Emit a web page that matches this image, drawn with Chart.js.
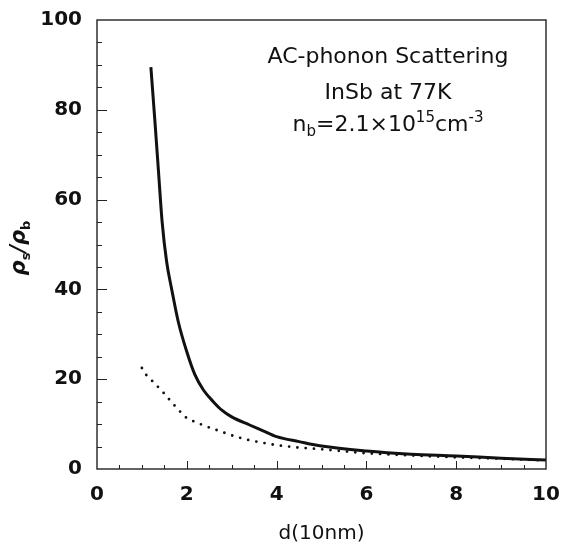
<!DOCTYPE html>
<html>
<head>
<meta charset="utf-8">
<script src="https://cdn.jsdelivr.net/npm/chart.js@4.4.1/dist/chart.umd.min.js"></script>
<style>
  html, body { margin: 0; padding: 0; background: #fff; }
  #wrap { width: 561px; height: 548px; }
</style>
</head>
<body>
<div id="wrap"><canvas id="chart" width="561" height="548"></canvas></div>
<script>
// values: d in units of 10 nm, rho_s / rho_b
const solidD   = [1.2, 1.29, 1.37, 1.45, 1.55, 1.66, 1.81, 2.0, 2.18, 2.37, 2.59, 2.78, 3.0, 3.4, 3.7, 4.0, 4.5, 5.0, 6.0, 7.0, 8.0, 9.0, 10.0];
const solidRho = [89.5, 77.4, 66.2, 55.1, 46.2, 40.2, 32.8, 26.1, 21.0, 17.6, 15.0, 13.1, 11.6, 9.8, 8.5, 7.2, 6.1, 5.1, 4.0, 3.3, 2.9, 2.4, 2.0];

const dotD   = [1.0, 1.1, 1.3, 1.48, 1.65, 1.83, 2.0, 2.2, 2.4, 2.6, 2.8, 3.0, 3.3, 3.6, 4.0, 4.45, 5.0, 6.0, 7.0, 8.0, 9.0, 10.0];
const dotRho = [22.5, 20.9, 18.9, 17.0, 15.0, 13.0, 11.3, 10.4, 9.6, 8.9, 8.2, 7.5, 6.6, 6.0, 5.3, 4.8, 4.4, 3.5, 3.0, 2.6, 2.3, 1.9];

const xTicks = [0, 2, 4, 6, 8, 10];
const yTicks = [0, 20, 40, 60, 80, 100];

const FONT = '"DejaVu Sans", "Liberation Sans", sans-serif';
const INK = '#111';

function toPoints(xs, ys) {
    return xs.map((x, i) => ({ x: x, y: ys[i] }));
}

// draws a row of text pieces (normal / sub / sup) one after another
function drawRuns(ctx, runs, x, y, big, small, align) {
    const fonts = { main: big, sub: small, sup: small };
    let total = 0;
    runs.forEach(r => {
        ctx.font = fonts[r[1]];
        total += ctx.measureText(r[0]).width;
    });
    let cx = align === 'center' ? x - total / 2 : x;
    runs.forEach(r => {
        ctx.font = fonts[r[1]];
        let dy = 0;
        if (r[1] === 'sub') dy = 5;
        if (r[1] === 'sup') dy = -9;
        ctx.fillText(r[0], cx, y + dy);
        cx += ctx.measureText(r[0]).width;
    });
}

// box round the plot and inward tick marks
const frame = {
    id: 'frame',
    afterDatasetsDraw(chart) {
        const ctx = chart.ctx;
        const a = chart.chartArea;
        const xs = chart.scales.x, ys = chart.scales.y;
        ctx.save();
        ctx.strokeStyle = '#222';
        ctx.lineWidth = 1.4;
        ctx.strokeRect(a.left, a.top, a.right - a.left, a.bottom - a.top);
        ctx.lineWidth = 1;
        ctx.beginPath();
        for (let v = 0.5; v < 10; v += 0.5) {
            const px = Math.round(xs.getPixelForValue(v)) + 0.5;
            const len = (v % 2 === 0) ? 8 : 4;
            ctx.moveTo(px, a.bottom);
            ctx.lineTo(px, a.bottom - len);
        }
        for (let v = 5; v < 100; v += 5) {
            const py = Math.round(ys.getPixelForValue(v)) + 0.5;
            const len = (v % 20 === 0) ? 10 : 5;
            ctx.moveTo(a.left, py);
            ctx.lineTo(a.left + len, py);
        }
        ctx.stroke();
        ctx.restore();
    }
};

// annotation text and the rotated y label
const labels = {
    id: 'labels',
    afterDraw(chart) {
        const ctx = chart.ctx;
        const a = chart.chartArea;
        const cx = a.left + 291;
        ctx.save();
        ctx.fillStyle = INK;
        ctx.textBaseline = 'alphabetic';
        ctx.textAlign = 'left';
        const big = '22px ' + FONT, small = '15px ' + FONT;
        drawRuns(ctx, [['AC-phonon Scattering', 'main']], cx, a.top + 43, big, small, 'center');
        drawRuns(ctx, [['InSb at 77K', 'main']], cx, a.top + 79, big, small, 'center');
        drawRuns(ctx, [['n', 'main'], ['b', 'sub'], ['=2.1\u00d710', 'main'], ['15', 'sup'],
                       ['cm', 'main'], ['-3', 'sup']], cx, a.top + 111, big, small, 'center');

        // y label: rho_s / rho_b
        ctx.translate(25, 248);
        ctx.rotate(-Math.PI / 2);
        const rho = 'italic bold 21px ' + FONT;
        const sub = 'bold 13px ' + FONT;
        drawRuns(ctx, [['\u03c1', 'main'], ['s', 'sub'], ['/', 'main'], ['\u03c1', 'main'], ['b', 'sub']],
                 0, 0, rho, sub, 'center');
        ctx.restore();
    }
};

const ctx = document.getElementById('chart').getContext('2d');
new Chart(ctx, {
    type: 'line',
    data: {
        datasets: [{
            label: 'solid',
            data: toPoints(solidD, solidRho),
            borderColor: INK,
            borderWidth: 3,
            pointRadius: 0,
            cubicInterpolationMode: 'monotone',
            fill: false
        }, {
            label: 'dotted',
            data: toPoints(dotD, dotRho),
            borderColor: INK,
            borderWidth: 2.8,
            borderDash: [0, 8.3],
            borderCapStyle: 'round',
            pointRadius: 0,
            tension: 0,
            fill: false
        }]
    },
    options: {
        responsive: false,
        animation: false,
        devicePixelRatio: 1,
        layout: { padding: { top: 20, right: 15, left: 0, bottom: 0 } },
        plugins: { legend: { display: false }, tooltip: { enabled: false } },
        scales: {
            x: {
                type: 'linear',
                min: 0,
                max: 10,
                afterBuildTicks: s => { s.ticks = xTicks.map(v => ({ value: v })); },
                afterFit: s => { s.height = 79; s.paddingLeft = 0; s.paddingRight = 0; },
                grid: { display: false, drawTicks: false },
                border: { display: false },
                ticks: { color: INK, font: { family: FONT, size: 20, weight: 'bold' }, padding: 14, maxRotation: 0 },
                title: { display: true, text: 'd(10nm)', color: INK,
                         font: { family: FONT, size: 20 }, padding: { top: 0, bottom: 2 } }
            },
            y: {
                min: 0,
                max: 100,
                afterBuildTicks: s => { s.ticks = yTicks.map(v => ({ value: v })); },
                afterFit: s => { s.width = 97; s.paddingTop = 0; s.paddingBottom = 0; },
                grid: { display: false, drawTicks: false },
                border: { display: false },
                ticks: { color: INK, font: { family: FONT, size: 20, weight: 'bold' }, padding: 15 }
            }
        }
    },
    plugins: [frame, labels]
});
</script>
</body>
</html>
